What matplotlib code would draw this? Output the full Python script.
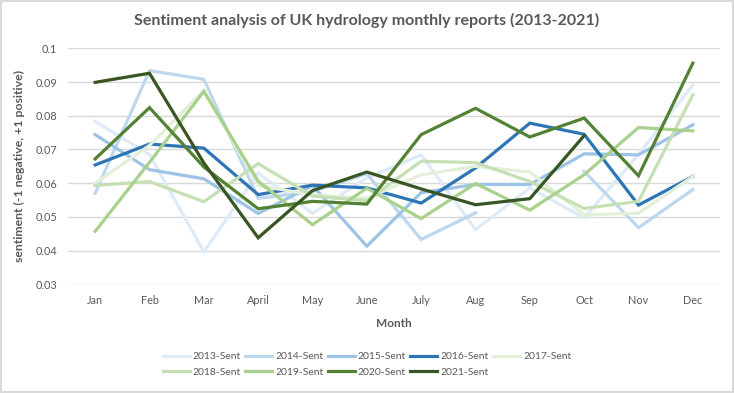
import numpy as np
import matplotlib
matplotlib.use("Agg")
import matplotlib.pyplot as plt

plt.rcParams['font.family'] = ['Lato', 'DejaVu Sans']

months = ["Jan", "Feb", "Mar", "April", "May", "June", "July", "Aug", "Sep", "Oct", "Nov", "Dec"]
nan = np.nan

# sentiment per month
s2013 = [0.0783, 0.0685, 0.0396, 0.0630, 0.0511, 0.0615, 0.0684, 0.0462, 0.0586, 0.0497, 0.0685, 0.0891]
s2014 = [0.0570, 0.0934, 0.0908, 0.0555, 0.0575, 0.0628, 0.0433, 0.0512, nan, 0.0635, 0.0468, 0.0581]
s2015 = [0.0744, 0.0640, 0.0613, 0.0510, 0.0593, 0.0413, 0.0572, 0.0596, 0.0596, 0.0687, 0.0684, 0.0773]
s2016 = [0.0654, 0.0716, 0.0704, 0.0566, 0.0594, 0.0586, 0.0541, 0.0645, 0.0778, 0.0745, 0.0535, 0.0620]
s2017 = [0.0600, 0.0712, 0.0875, 0.0593, 0.0565, 0.0555, 0.0625, 0.0650, 0.0633, 0.0506, 0.0511, 0.0620]
s2018 = [0.0593, 0.0605, 0.0545, 0.0658, 0.0562, 0.0548, 0.0665, 0.0661, 0.0605, 0.0525, 0.0546, 0.0862]
s2019 = [0.0457, 0.0662, 0.0872, 0.0606, 0.0477, 0.0585, 0.0495, 0.0599, 0.0520, 0.0625, 0.0765, 0.0755]
s2020 = [0.0672, 0.0824, 0.0648, 0.0524, 0.0546, 0.0538, 0.0744, 0.0822, 0.0737, 0.0793, 0.0622, 0.0956]
s2021 = [0.0899, 0.0926, 0.0660, 0.0438, 0.0578, 0.0633, 0.0583, 0.0536, 0.0554, 0.0741, nan, nan]

series = [
    ("2013-Sent", s2013, "#DEEBF7"),
    ("2014-Sent", s2014, "#BDD7EE"),
    ("2015-Sent", s2015, "#9DC3E6"),
    ("2016-Sent", s2016, "#2E75B6"),
    ("2017-Sent", s2017, "#E2F0D9"),
    ("2018-Sent", s2018, "#C5E0B4"),
    ("2019-Sent", s2019, "#A9D18E"),
    ("2020-Sent", s2020, "#548235"),
    ("2021-Sent", s2021, "#375623"),
]

W, H = 734, 393
fig = plt.figure(figsize=(W / 100, H / 100), dpi=100)
fig.patch.set_edgecolor("#D9D9D9")
fig.patch.set_linewidth(1.5)
ax = fig.add_axes([68 / W, 1 - 284.3 / H, (720 - 68) / W, (284.3 - 48.3) / H])

x = np.arange(len(months))
handles = []
for name, vals, col in series:
    h, = ax.plot(x, vals, color=col, lw=2.3, label=name, solid_joinstyle="miter")
    handles.append(h)

txt = "#595959"
ax.set_xlim(-0.5, 11.5)
ax.set_ylim(0.03, 0.1)
ax.set_yticks([0.03, 0.04, 0.05, 0.06, 0.07, 0.08, 0.09, 0.1])
ax.set_yticklabels(["0.03", "0.04", "0.05", "0.06", "0.07", "0.08", "0.09", "0.1"])
ax.set_xticks(x)
ax.set_xticklabels(months)
ax.tick_params(length=0, colors=txt, labelsize=7.8)
ax.tick_params(axis="y", pad=8)
ax.tick_params(axis="x", pad=8)
ax.grid(axis="y", color="#D9D9D9", lw=1)
ax.set_axisbelow(True)
for sp in ax.spines.values():
    sp.set_visible(False)

ax.set_xlabel("Month", fontsize=8.5, fontweight="bold", color=txt, labelpad=8)
ax.set_ylabel("sentiment (-1 negative, +1 positive)", fontsize=8.8, fontweight="bold", color=txt, labelpad=7)
fig.text(0.5, 1 - 20 / H, "Sentiment analysis of UK hydrology monthly reports (2013-2021)",
         ha="center", va="center", fontsize=11.5, fontweight="bold", color=txt)

# matplotlib fills legend columns first, so reorder to get two rows
order = [0, 5, 1, 6, 2, 7, 3, 8, 4]
leg = fig.legend([handles[i] for i in order], [series[i][0] for i in order],
                 loc="center", bbox_to_anchor=(0.5, 1 - 364.5 / H), ncol=5, frameon=False,
                 fontsize=7.5, handlelength=2.6, handletextpad=0.3, columnspacing=0.4,
                 labelspacing=0.6, labelcolor=txt)

fig.savefig("out.png", dpi=100, edgecolor=fig.get_edgecolor())
